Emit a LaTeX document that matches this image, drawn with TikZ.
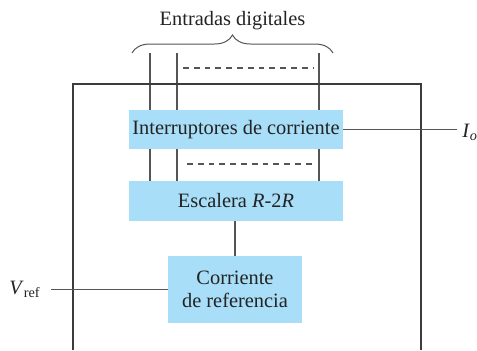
\documentclass[tikz,border=0pt]{standalone}
\usepackage{fontspec}
\setmainfont{Liberation Serif}
\usepackage{tikz}
\usetikzlibrary{positioning, backgrounds, decorations.pathreplacing, calc}
\definecolor{boxblue}{RGB}{168, 222, 248}
\definecolor{linegray}{RGB}{85, 85, 85}
\definecolor{framegray}{RGB}{60, 60, 60}
\definecolor{textgray}{RGB}{35, 35, 35}

\begin{document}
\begin{tikzpicture}[x=0.5pt, y=-0.5pt,
    block/.style={fill=boxblue, inner sep=0pt, minimum height=19.5pt, text=textgray,
                  align=center, font=\fontsize{10.2}{11.5}\selectfont},
    wire/.style={draw=linegray, line width=0.6pt},
    dashes/.style={wire, dash pattern=on 2.9pt off 2.5pt},
    lbl/.style={inner sep=0pt, text=textgray, font=\rmfamily\fontsize{10.2}{12}\selectfont}
]
    \useasboundingbox (0,0) rectangle (477,350);

    % Blocks
    \node[block, minimum width=107pt] (switches) at (236,129.5)
        {Interruptores de corriente};
    \node[block, minimum width=107pt, minimum height=20pt] (ladder) at (236,201)
        {Escalera \textit{R}-2\textit{R}};
    \node[block, minimum width=67pt, minimum height=33.5pt] (refsrc) at (235,289.5)
        {Corriente\\de referencia};

    % Digital inputs
    \coordinate (in1) at (150,53);
    \coordinate (in2) at (177,53);
    \coordinate (in3) at (319,53);
    \begin{scope}[on background layer]
        \foreach \c in {in1,in2,in3}
            \draw[wire] (\c) -- (\c |- ladder.north);
    \end{scope}
    \draw[dashes] (183,68) -- (313,68);
    \draw[dashes] (187,164) -- (313,164);

    % Brace
    \coordinate (braceL) at (132,53);
    \coordinate (braceR) at (333,53);
    \draw[linegray, line width=0.5pt, decorate, decoration={brace, amplitude=9pt}]
        (braceL) -- (braceR);
    \node[lbl, above=11.5pt of $(braceL)!0.5!(braceR)$] (inputs) {Entradas digitales};

    % Outer frame
    \draw[framegray, line width=0.7pt] (73,350) -- (73,84) -- (421,84) -- (421,350);

    % Terminals
    \node[lbl, anchor=base west] (iout) at (462,137)
        {\textit{I}\textsubscript{\textit{o}}};
    \node[lbl, anchor=base east] (vref) at (41,294)
        {\textit{V}\textsubscript{ref}};
    \draw[wire, shorten >=2.5pt] (switches.east) -- (switches.east -| iout.west);
    \draw[wire] (ladder.south -| refsrc.north) -- (refsrc.north);
    \draw[wire, shorten <=5pt] (vref.east |- refsrc.west) -- (refsrc.west);
\end{tikzpicture}
\end{document}
